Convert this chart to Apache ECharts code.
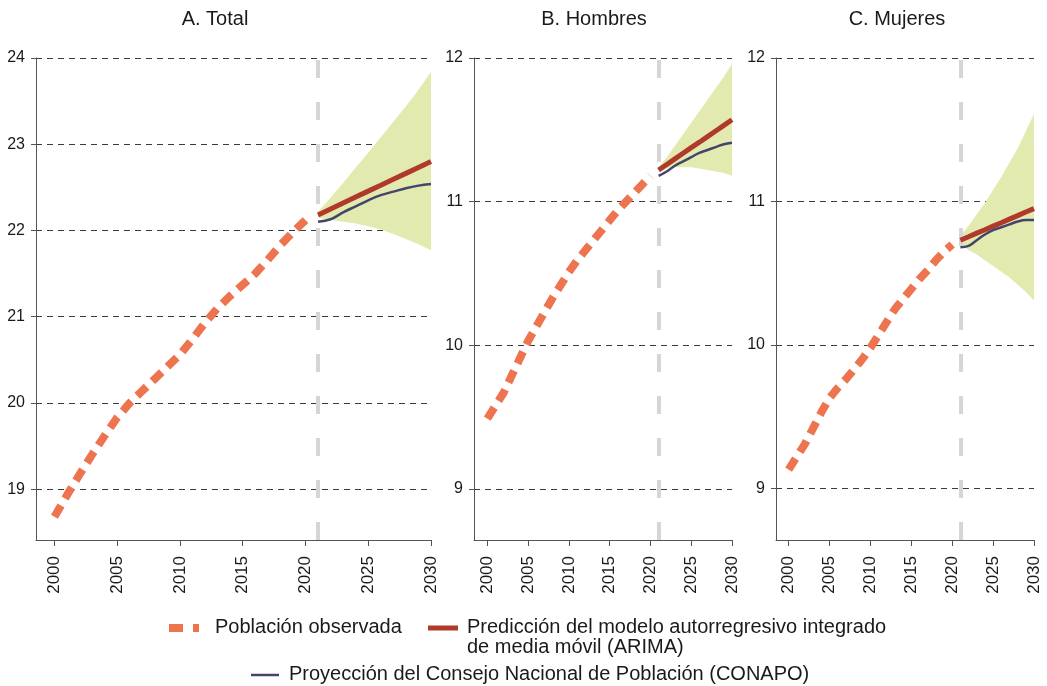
<!DOCTYPE html>
<html>
<head>
<meta charset="utf-8">
<title>Población de México: observada y proyectada</title>
<script src="https://cdn.jsdelivr.net/npm/echarts@6/dist/echarts.min.js"></script>
<style>
  html, body { margin: 0; padding: 0; background: #ffffff; }
  #chart { width: 1047px; height: 686px; }
</style>
</head>
<body>
<div id="chart"></div>
<script>
// Years and tick labels
const observedYears = [2000, 2001, 2002, 2003, 2004, 2005, 2006, 2007, 2008, 2009, 2010,
                       2011, 2012, 2013, 2014, 2015, 2016, 2017, 2018, 2019, 2020];
const forecastYears = [2021, 2022, 2023, 2024, 2025, 2026, 2027, 2028, 2029, 2030];
const yearTicks = [2000, 2005, 2010, 2015, 2020, 2025, 2030];
const totalTicks = [19, 20, 21, 22, 23, 24];
const sexTicks = [9, 10, 11, 12];
const panelTitles = ['A. Total', 'B. Hombres', 'C. Mujeres'];

// A. Total (millones)
const obsTotal = [18.68, 18.93, 19.17, 19.40, 19.62, 19.83, 20.00, 20.14, 20.28, 20.42, 20.56,
                  20.74, 20.93, 21.10, 21.24, 21.37, 21.50, 21.66, 21.83, 21.98, 22.12];
const arimaTotal = [22.180, 22.249, 22.318, 22.387, 22.456, 22.524, 22.593, 22.662, 22.731, 22.800];
const conapoTotal = [22.10, 22.13, 22.21, 22.28, 22.35, 22.41, 22.45, 22.49, 22.52, 22.54];
const fanLowTotal = [22.15, 22.12, 22.10, 22.08, 22.05, 22.01, 21.96, 21.90, 21.84, 21.77];
const fanHighTotal = [22.22, 22.38, 22.55, 22.73, 22.90, 23.08, 23.26, 23.44, 23.63, 23.84];

// B. Hombres
const obsMen = [9.49, 9.58, 9.67, 9.79, 9.91, 10.03, 10.13, 10.23, 10.33, 10.42, 10.51,
                10.59, 10.66, 10.73, 10.80, 10.87, 10.94, 11.00, 11.06, 11.12, 11.18];
const arimaMen = [11.220, 11.259, 11.298, 11.337, 11.376, 11.414, 11.453, 11.492, 11.531, 11.570];
const conapoMen = [11.18, 11.21, 11.25, 11.28, 11.31, 11.34, 11.36, 11.38, 11.40, 11.41];
const fanLowMen = [11.20, 11.23, 11.24, 11.24, 11.24, 11.23, 11.22, 11.21, 11.20, 11.18];
const fanHighMen = [11.24, 11.31, 11.39, 11.47, 11.55, 11.63, 11.71, 11.79, 11.87, 11.96];

// C. Mujeres
const obsWomen = [9.13, 9.22, 9.31, 9.42, 9.53, 9.63, 9.70, 9.76, 9.83, 9.90, 9.98,
                  10.07, 10.16, 10.25, 10.32, 10.39, 10.46, 10.52, 10.59, 10.65, 10.70];
const arimaWomen = [10.730, 10.754, 10.779, 10.803, 10.828, 10.852, 10.877, 10.901, 10.926, 10.950];
const conapoWomen = [10.68, 10.69, 10.73, 10.77, 10.80, 10.82, 10.84, 10.86, 10.87, 10.87];
const fanLowWomen = [10.70, 10.66, 10.63, 10.59, 10.55, 10.51, 10.47, 10.42, 10.37, 10.31];
const fanHighWomen = [10.76, 10.83, 10.91, 10.99, 11.08, 11.17, 11.27, 11.37, 11.49, 11.61];

// Legend labels
const legendObserved = 'Población observada';
const legendArima = ['Predicción del modelo autorregresivo integrado', 'de media móvil (ARIMA)'];
const legendConapo = 'Proyección del Consejo Nacional de Población (CONAPO)';

// Styling
const FONT = '"Liberation Sans", Arial, Helvetica, sans-serif';
const TEXT = '#1a1a1a';
const AXIS = '#5a5252';
const GRID = '#3a3a3a';
const ORANGE = '#ee744f';
const RED = '#b03a2a';
const NAVY = '#45456b';
const FAN = '#e3eab0';
const SPLIT = '#d6d6d6';

const panels = [
  { cx: 215, left: 36, right: 616, xMin: 1998.53, yMin: 18.41, yMax: 24, yTicks: totalTicks,
    obs: obsTotal, arima: arimaTotal, conapo: conapoTotal, low: fanLowTotal, high: fanHighTotal },
  { cx: 594, left: 474, right: 315, xMin: 1998.37, yMin: 8.645, yMax: 12, yTicks: sexTicks,
    obs: obsMen, arima: arimaMen, conapo: conapoMen, low: fanLowMen, high: fanHighMen },
  { cx: 897, left: 776, right: 13, xMin: 1998.46, yMin: 8.64, yMax: 12, yTicks: sexTicks,
    obs: obsWomen, arima: arimaWomen, conapo: conapoWomen, low: fanLowWomen, high: fanHighWomen }
];

const pair = (xs, ys) => xs.map((x, i) => [x, ys[i]]);
const yearLabel = v => String(Math.round(v));
const plainLabel = v => String(v);

const grids = [], xAxes = [], yAxes = [], series = [], graphics = [];

panels.forEach((p, i) => {
  grids.push({ left: p.left, right: p.right, top: 58, bottom: 146, containLabel: false });

  xAxes.push({
    gridIndex: i, type: 'value', min: p.xMin, max: 2030,
    axisLine: { show: true, onZero: false, lineStyle: { color: AXIS, width: 1 } },
    axisTick: { show: true, customValues: yearTicks, length: 6, lineStyle: { color: AXIS, width: 1 } },
    axisLabel: { customValues: yearTicks, formatter: yearLabel, rotate: 90, margin: 16, fontSize: 17,
                 fontFamily: FONT, color: TEXT, showMinLabel: true, showMaxLabel: true },
    splitLine: { show: false }
  });

  yAxes.push({
    gridIndex: i, type: 'value', min: p.yMin, max: p.yMax,
    axisLine: { show: true, onZero: false, lineStyle: { color: AXIS, width: 1 } },
    axisTick: { show: true, customValues: p.yTicks, length: 5, lineStyle: { color: AXIS, width: 1 } },
    axisLabel: { customValues: p.yTicks, formatter: plainLabel, margin: 11, fontSize: 16,
                 fontFamily: FONT, color: TEXT, showMinLabel: true, showMaxLabel: true },
    splitLine: { show: true, lineStyle: { color: GRID, width: 1, type: [6, 5] } }
  });

  // confidence band of the ARIMA forecast: one polygon through upper then lower bounds
  const band = forecastYears.map((y, k) => [y, p.low[k], p.high[k]]);
  series.push({
    type: 'custom', xAxisIndex: i, yAxisIndex: i, z: 2, silent: true, clip: true,
    encode: { x: 0, y: [1, 2] },
    data: band,
    renderItem: (params, api) => {
      if (params.dataIndex !== 0) return null;
      const upper = band.map(d => api.coord([d[0], d[2]]));
      const lower = band.map(d => api.coord([d[0], d[1]])).reverse();
      return {
        type: 'polygon',
        shape: { points: upper.concat(lower), smooth: 0 },
        style: { fill: FAN, stroke: null }
      };
    }
  });

  // vertical marker at the start of the forecast period
  series.push({
    type: 'line', xAxisIndex: i, yAxisIndex: i, data: [], z: 3, silent: true,
    markLine: {
      silent: true, symbol: ['none', 'none'], label: { show: false },
      lineStyle: { color: SPLIT, width: 4, type: [18, 24] },
      emphasis: { disabled: true },
      data: [{ xAxis: forecastYears[0] }]
    }
  });

  series.push({
    name: legendObserved, type: 'line', xAxisIndex: i, yAxisIndex: i, z: 4,
    data: pair(observedYears, p.obs), symbol: 'none',
    lineStyle: { color: ORANGE, width: 8, type: [13, 8], cap: 'butt' }
  });
  series.push({
    name: legendArima.join(' '), type: 'line', xAxisIndex: i, yAxisIndex: i, z: 5,
    data: pair(forecastYears, p.arima), symbol: 'none',
    lineStyle: { color: RED, width: 5, cap: 'butt' }
  });
  series.push({
    name: legendConapo, type: 'line', xAxisIndex: i, yAxisIndex: i, z: 5,
    data: pair(forecastYears, p.conapo), symbol: 'none', smooth: 0.4,
    lineStyle: { color: NAVY, width: 2.5 }
  });

  graphics.push({
    type: 'text', x: p.cx, y: 19, silent: true,
    style: { text: panelTitles[i], fontSize: 20, fontFamily: FONT, fill: TEXT,
             align: 'center', verticalAlign: 'middle' }
  });
});

// Legend at the bottom
const legendText = (text, x, y) => ({
  type: 'text', x, y, silent: true,
  style: { text, fontSize: 20, fontFamily: FONT, fill: TEXT, align: 'left', verticalAlign: 'middle' }
});
graphics.push(
  { type: 'line', silent: true, shape: { x1: 169, y1: 628, x2: 199, y2: 628 },
    style: { stroke: ORANGE, lineWidth: 8, lineDash: [14, 10], lineCap: 'butt' } },
  legendText(legendObserved, 215, 627),
  { type: 'line', silent: true, shape: { x1: 428, y1: 628, x2: 458, y2: 628 },
    style: { stroke: RED, lineWidth: 5, lineCap: 'butt' } },
  legendText(legendArima[0], 467, 627),
  legendText(legendArima[1], 467, 647),
  { type: 'line', silent: true, shape: { x1: 251, y1: 675, x2: 279, y2: 675 },
    style: { stroke: NAVY, lineWidth: 2.5, lineCap: 'butt' } },
  legendText(legendConapo, 289, 674)
);

const chart = echarts.init(document.getElementById('chart'), null, { renderer: 'canvas' });
chart.setOption({
  animation: false,
  backgroundColor: '#ffffff',
  grid: grids,
  xAxis: xAxes,
  yAxis: yAxes,
  series: series,
  graphic: graphics
});
</script>
</body>
</html>
